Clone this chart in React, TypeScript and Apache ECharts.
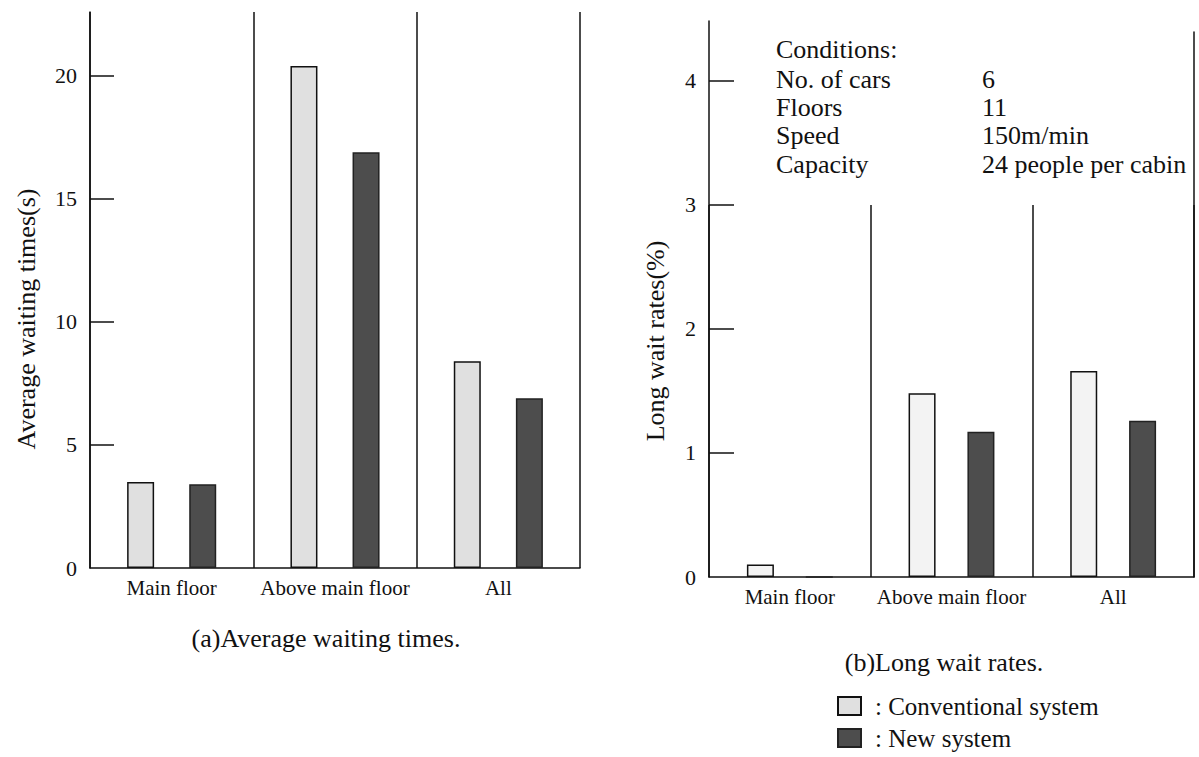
import React, { useEffect, useRef } from "react";
import * as echarts from "echarts";

const categories = ["Main floor", "Above main floor", "All"];
const waitConventional = [3.5, 20.4, 8.4];
const waitNew = [3.4, 16.9, 6.9];
const longConventional = [0.1, 1.48, 1.66];
const longNew = [0, 1.17, 1.26];
const waitTicks = [0, 5, 10, 15, 20];
const longTicks = [0, 1, 2, 3, 4];
const conditionLabels = ["Conditions:", "No. of cars", "Floors", "Speed", "Capacity"];
const conditionValues = ["", "6", "11", "150m/min", "24 people per cabin"];
const seriesNames = ["Conventional system", "New system"];

const FONT = "Liberation Serif";
const INK = "#111";

export default function App() {
  const ref = useRef<HTMLDivElement>(null);
  useEffect(() => {
    if (!ref.current) return;
    const chart = echarts.init(ref.current, undefined, { renderer: "svg" });
    const line = { color: INK, width: 1.5 };
    const catLabel = { fontSize: 21, color: INK, fontFamily: FONT, margin: 9, interval: 0 };
    const condRowsY = [49, 79, 107, 135, 164];
    const graphics: any[] = [];
    conditionLabels.forEach((t, i) => {
      graphics.push({
        type: "text", x: 776, y: condRowsY[i],
        style: { text: t, font: `26px '${FONT}'`, fill: INK, textAlign: "left", textVerticalAlign: "middle" },
      });
      if (conditionValues[i]) {
        graphics.push({
          type: "text", x: 982, y: condRowsY[i],
          style: { text: conditionValues[i], font: `26px '${FONT}'`, fill: INK, textAlign: "left", textVerticalAlign: "middle" },
        });
      }
    });
    graphics.push(
      { type: "text", x: 26, y: 319, rotation: Math.PI / 2,
        style: { text: "Average waiting times(s)", font: `26px '${FONT}'`, fill: INK, textAlign: "center", textVerticalAlign: "middle" } },
      { type: "text", x: 655, y: 341, rotation: Math.PI / 2,
        style: { text: "Long wait rates(%)", font: `26px '${FONT}'`, fill: INK, textAlign: "center", textVerticalAlign: "middle" } },
      { type: "text", x: 326, y: 638,
        style: { text: "(a)Average waiting times.", font: `26px '${FONT}'`, fill: INK, textAlign: "center", textVerticalAlign: "middle" } },
      { type: "text", x: 944, y: 662,
        style: { text: "(b)Long wait rates.", font: `26px '${FONT}'`, fill: INK, textAlign: "center", textVerticalAlign: "middle" } }
    );

    const option: any = {
      animation: false,
      backgroundColor: "#fff",
      textStyle: { fontFamily: FONT },
      grid: [
        { left: 90, top: 12, width: 490, height: 556 },
        { left: 709, top: 21, width: 485, height: 556 },
        { left: 709, top: 205, width: 485, height: 372 },
        { left: 709, top: 32, width: 485, height: 545 },
      ],
      legend: {
        orient: "vertical", left: 837, top: 691, padding: 0, height: 66,
        icon: "rect", itemWidth: 23, itemHeight: 18, itemGap: 2,
        selectedMode: false,
        data: seriesNames,
        formatter: (n: string) => ": " + n,
        textStyle: { fontSize: 25, color: INK, fontFamily: FONT, lineHeight: 30, padding: [0, 0, 0, 9] },
      },
      xAxis: [
        { gridIndex: 0, type: "category", data: categories, axisLine: { lineStyle: line }, axisTick: { show: false },
          axisLabel: catLabel, splitLine: { show: true, lineStyle: line } },
        { gridIndex: 1, type: "category", data: categories, axisLine: { lineStyle: line }, axisTick: { show: false },
          axisLabel: catLabel, splitLine: { show: false } },
        { gridIndex: 2, type: "category", data: categories, axisLine: { show: false }, axisTick: { show: false },
          axisLabel: { show: false }, splitLine: { show: true, lineStyle: line } },
        { gridIndex: 3, type: "category", data: categories, show: false },
      ],
      yAxis: [
        { gridIndex: 0, type: "value", min: 0, max: 22.6, axisLine: { show: true, lineStyle: line },
          axisTick: { show: true, inside: true, length: 24, customValues: waitTicks.slice(1), lineStyle: line },
          axisLabel: { customValues: waitTicks, margin: 13, fontSize: 22, color: INK, fontFamily: FONT },
          splitLine: { show: false } },
        { gridIndex: 1, type: "value", min: 0, max: 4.48, axisLine: { show: true, lineStyle: line },
          axisTick: { show: true, inside: true, length: 25, customValues: longTicks.slice(1), lineStyle: line },
          axisLabel: { customValues: longTicks, margin: 13, fontSize: 22, color: INK, fontFamily: FONT },
          splitLine: { show: false } },
        { gridIndex: 2, type: "value", min: 0, max: 3, show: false },
        { gridIndex: 3, type: "value", min: 0, max: 1, position: "right", axisLine: { show: true, lineStyle: line },
          axisTick: { show: false }, axisLabel: { show: false }, splitLine: { show: false } },
      ],
      series: [
        { name: seriesNames[0], type: "bar", xAxisIndex: 0, yAxisIndex: 0, data: waitConventional,
          barWidth: 27, barGap: "130%", itemStyle: { color: "#e0e0e0", borderColor: INK, borderWidth: 1.5 } },
        { name: seriesNames[1], type: "bar", xAxisIndex: 0, yAxisIndex: 0, data: waitNew,
          barWidth: 27, barGap: "130%", itemStyle: { color: "#4d4d4d", borderColor: "#222", borderWidth: 1.5 } },
        { name: seriesNames[0], type: "bar", xAxisIndex: 1, yAxisIndex: 1, data: longConventional,
          barWidth: 27, barGap: "118%", itemStyle: { color: "#f3f3f3", borderColor: INK, borderWidth: 1.5 } },
        { name: seriesNames[1], type: "bar", xAxisIndex: 1, yAxisIndex: 1, data: longNew,
          barWidth: 27, barGap: "118%", itemStyle: { color: "#4d4d4d", borderColor: "#222", borderWidth: 1.5 } },
      ],
      graphic: graphics,
    };
    chart.setOption(option);
    return () => chart.dispose();
  }, []);
  return (
    <div
      ref={ref}
      style={{ position: "fixed", left: 0, top: 0, width: 1199, height: 757, background: "#fff" }}
    />
  );
}
